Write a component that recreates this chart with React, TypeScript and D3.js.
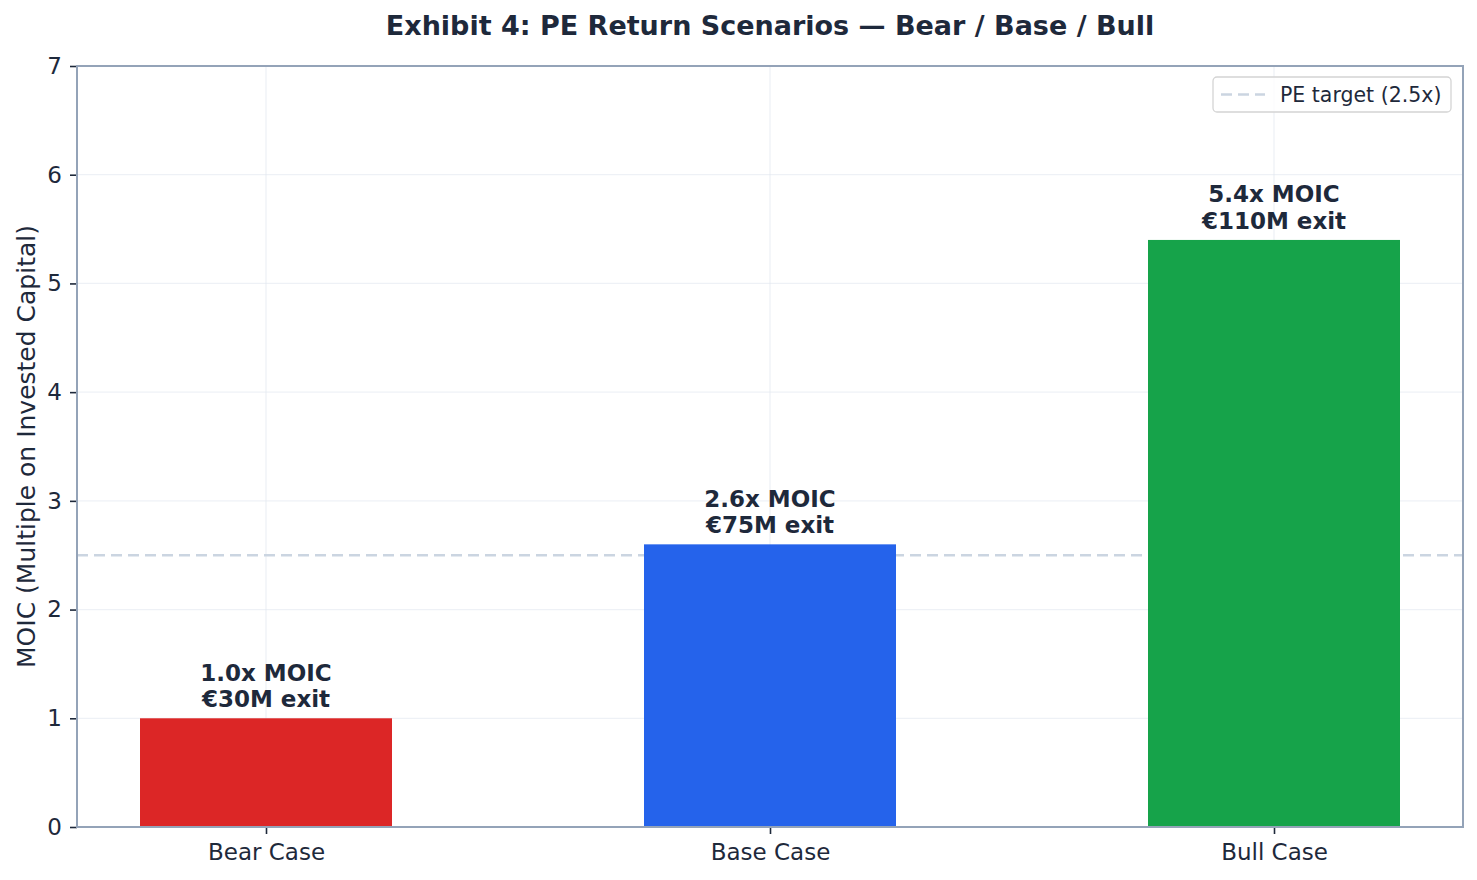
import { useEffect, useRef } from 'react';
import * as d3 from 'd3';

const categories = ['Bear Case', 'Base Case', 'Bull Case'];
const moicValues = [1.0, 2.6, 5.4];
const exitLabels = ['€30M exit', '€75M exit', '€110M exit'];
const barColors = ['#dc2626', '#2563eb', '#16a34a'];
const yTicks = [0, 1, 2, 3, 4, 5, 6, 7];
const peTarget = 2.5;

const W = 1477;
const H = 880;
const FONT = '"DejaVu Sans", sans-serif';
const TEXT = '#1e293b';

export default function App() {
  const svgRef = useRef<SVGSVGElement>(null);

  useEffect(() => {
    document.body.style.margin = '0';
    if (!svgRef.current) return;
    const margin = { top: 66, right: 14, bottom: 53, left: 77 };
    const width = W - margin.left - margin.right;
    const height = H - margin.top - margin.bottom;

    const root = d3.select(svgRef.current);
    root.selectAll('*').remove();
    root.append('rect').attr('width', W).attr('height', H).attr('fill', '#fff');

    const g = root.append('g').attr('transform', `translate(${margin.left},${margin.top})`);

    // x: category index, padding like matplotlib default (-0.375 .. 2.375)
    const x = d3.scaleLinear().domain([-0.375, categories.length - 1 + 0.375]).range([0, width]);
    const y = d3.scaleLinear().domain([0, 7]).range([height, 0]);
    const barW = x(0.5) - x(0);

    // grid
    g.append('g')
      .selectAll('line.hg')
      .data(yTicks)
      .join('line')
      .attr('x1', 0)
      .attr('x2', width)
      .attr('y1', (d) => y(d))
      .attr('y2', (d) => y(d))
      .attr('stroke', '#e2e8f0')
      .attr('stroke-opacity', 0.6)
      .attr('stroke-width', 1.3);
    g.append('g')
      .selectAll('line.vg')
      .data(categories)
      .join('line')
      .attr('x1', (_, i) => x(i))
      .attr('x2', (_, i) => x(i))
      .attr('y1', 0)
      .attr('y2', height)
      .attr('stroke', '#e2e8f0')
      .attr('stroke-opacity', 0.6)
      .attr('stroke-width', 1.3);

    // target line
    g.append('line')
      .attr('x1', 0)
      .attr('x2', width)
      .attr('y1', y(peTarget))
      .attr('y2', y(peTarget))
      .attr('stroke', '#cbd5e1')
      .attr('stroke-width', 2.6)
      .attr('stroke-dasharray', '11,6');

    // bars
    g.selectAll('rect.bar')
      .data(moicValues)
      .join('rect')
      .attr('x', (_, i) => x(i) - barW / 2)
      .attr('y', (d) => y(d))
      .attr('width', barW)
      .attr('height', (d) => height - y(d))
      .attr('fill', (_, i) => barColors[i]);

    // bar labels
    const lab = g.selectAll('text.lab')
      .data(moicValues)
      .join('text')
      .attr('x', (_, i) => x(i))
      .attr('y', (d) => y(d) - 11)
      .attr('text-anchor', 'middle')
      .style('font-family', FONT)
      .style('font-size', '23px')
      .style('font-weight', 'bold')
      .style('fill', TEXT);
    lab.append('tspan').attr('x', (_, i) => x(i)).attr('dy', '-1.16em').text((d) => `${d.toFixed(1)}x MOIC`);
    lab.append('tspan').attr('x', (_, i) => x(i)).attr('dy', '1.16em').text((_, i) => exitLabels[i]);

    // axes
    const yAxis = g.append('g').call(d3.axisLeft(y).tickValues(yTicks).tickFormat(d3.format('d')).tickSize(7).tickPadding(8));
    const xAxis = g.append('g')
      .attr('transform', `translate(0,${height})`)
      .call(d3.axisBottom(x).tickValues(categories.map((_, i) => i)).tickFormat((d) => categories[Number(d)]).tickSize(7).tickPadding(10));
    [yAxis, xAxis].forEach((a) => {
      a.select('.domain').remove();
      a.selectAll('line').attr('stroke', TEXT).attr('stroke-width', 1.6);
      a.selectAll('text').style('font-family', FONT).style('font-size', '23px').style('fill', TEXT);
    });

    // spines
    g.append('rect')
      .attr('width', width)
      .attr('height', height)
      .attr('fill', 'none')
      .attr('stroke', '#94a3b8')
      .attr('stroke-width', 2);

    // y label
    g.append('text')
      .attr('transform', `translate(${-42},${height / 2}) rotate(-90)`)
      .attr('text-anchor', 'middle')
      .style('font-family', FONT)
      .style('font-size', '25px')
      .style('fill', TEXT)
      .text('MOIC (Multiple on Invested Capital)');

    // title
    root.append('text')
      .attr('x', margin.left + width / 2)
      .attr('y', 35)
      .attr('text-anchor', 'middle')
      .style('font-family', FONT)
      .style('font-size', '27px')
      .style('font-weight', 'bold')
      .style('fill', TEXT)
      .text('Exhibit 4: PE Return Scenarios — Bear / Base / Bull');

    // legend
    const lg = g.append('g').attr('transform', `translate(${width - 250},11)`);
    lg.append('rect')
      .attr('width', 238)
      .attr('height', 35)
      .attr('rx', 4)
      .attr('fill', '#fff')
      .attr('fill-opacity', 0.8)
      .attr('stroke', '#d4d4d4')
      .attr('stroke-width', 1.3);
    lg.append('line')
      .attr('x1', 8)
      .attr('x2', 52)
      .attr('y1', 17.5)
      .attr('y2', 17.5)
      .attr('stroke', '#cbd5e1')
      .attr('stroke-width', 2.6)
      .attr('stroke-dasharray', '11,6');
    lg.append('text')
      .attr('x', 67)
      .attr('y', 24.5)
      .style('font-family', FONT)
      .style('font-size', '20.5px')
      .style('fill', TEXT)
      .text(`PE target (${peTarget}x)`);
  }, []);

  return <svg ref={svgRef} width={W} height={H} style={{ display: 'block' }} />;
}
